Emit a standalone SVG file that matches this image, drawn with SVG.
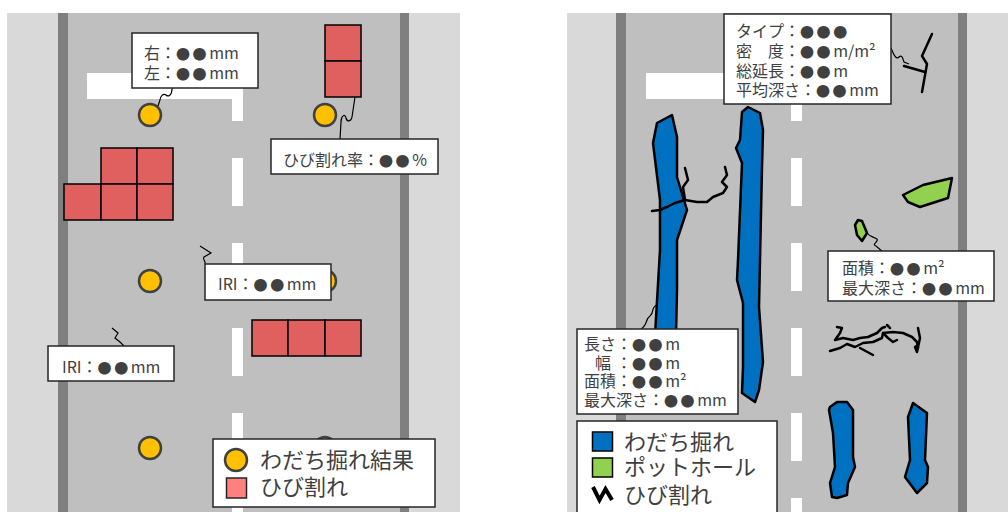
<svg xmlns="http://www.w3.org/2000/svg" width="1008" height="512" viewBox="0 0 1008 512">
<style>
.bg{fill:#d9d9d9}
.road{fill:#bfbfbf}
.edge{fill:#7f7f7f}
.mark{fill:#ffffff}
.pt{fill:#ffc000;stroke:#404040;stroke-width:2.5}
.cell{fill:#e06060;stroke:#000;stroke-width:1.5}
.rut{fill:#0070c0;stroke:#000;stroke-width:2.5;stroke-linejoin:round}
.hole{fill:#92d050;stroke:#000;stroke-width:2.5;stroke-linejoin:round}
.crack{fill:none;stroke:#000;stroke-width:2.5;stroke-linejoin:round;stroke-linecap:round}
.lead{fill:none;stroke:#000;stroke-width:1.2}
.box{fill:#fff;stroke:#262626;stroke-width:1.5}
.t{font-family:"Noto Sans CJK JP","Noto Sans",sans-serif;font-size:16px;fill:#404040}
.d{font-size:14px;letter-spacing:2.6px}
.lg{font-family:"Noto Sans CJK JP","Noto Sans",sans-serif;font-size:22px;fill:#404040}
</style>
<defs>
<path id="dash" d="M0,0h11v48h-11z"/>
</defs>

<!-- Left panel -->
<g id="left-panel">
<rect class="bg" x="7" y="13" width="453" height="499"/>
<rect class="road" x="68" y="13" width="332" height="499"/>
<rect class="edge" x="58" y="13" width="10" height="499"/>
<rect class="edge" x="400" y="13" width="9" height="499"/>
<rect class="mark" x="87" y="73" width="156" height="26"/>
<rect class="mark" x="232" y="73" width="11" height="48"/>
<use href="#dash" class="mark" x="232" y="158"/>
<use href="#dash" class="mark" x="232" y="243"/>
<use href="#dash" class="mark" x="232" y="328"/>
<use href="#dash" class="mark" x="232" y="413"/>
<use href="#dash" class="mark" x="232" y="498"/>
</g>

<!-- Right panel -->
<g id="right-panel">
<rect class="bg" x="567" y="13" width="441" height="499"/>
<rect class="road" x="626" y="13" width="332" height="499"/>
<rect class="edge" x="616" y="13" width="10" height="499"/>
<rect class="edge" x="958" y="13" width="9" height="499"/>
<rect class="mark" x="646" y="73" width="156" height="26"/>
<rect class="mark" x="791" y="73" width="11" height="48"/>
<use href="#dash" class="mark" x="791" y="158"/>
<use href="#dash" class="mark" x="791" y="243"/>
<use href="#dash" class="mark" x="791" y="328"/>
<use href="#dash" class="mark" x="791" y="413"/>
<use href="#dash" class="mark" x="791" y="498"/>
</g>

<!-- Left: rutting points -->
<g id="rut-points">
<circle class="pt" cx="150" cy="115" r="11"/>
<circle class="pt" cx="325" cy="115" r="11"/>
<circle class="pt" cx="150" cy="281" r="11"/>
<circle class="pt" cx="325" cy="281" r="11"/>
<circle class="pt" cx="150" cy="448" r="11"/>
<circle class="pt" cx="325" cy="448" r="11"/>
</g>

<!-- Left: crack cells -->
<g id="crack-cells-1">
<rect class="cell" x="101" y="148" width="36" height="36"/>
<rect class="cell" x="137" y="148" width="36" height="36"/>
<rect class="cell" x="64" y="184" width="37" height="36"/>
<rect class="cell" x="101" y="184" width="36" height="36"/>
<rect class="cell" x="137" y="184" width="36" height="36"/>
</g>
<g id="crack-cells-2">
<rect class="cell" x="325" y="25" width="36" height="36"/>
<rect class="cell" x="325" y="61" width="36" height="36"/>
</g>
<g id="crack-cells-3">
<rect class="cell" x="252" y="320" width="36" height="36"/>
<rect class="cell" x="288" y="320" width="37" height="36"/>
<rect class="cell" x="325" y="320" width="36" height="36"/>
</g>

<!-- Right: ruts -->
<g id="rut-a">
<path class="rut" d="M657,123 L672,115 L677,137 L677,177 L687,210 L677,240 L677,290 L676,335 L655,335 L660,250 L660,200 L653,143 Z"/>
</g>
<g id="rut-b">
<path class="rut" d="M742,112 L748,107 L760,113 L763,130 L762,167 L760,260 L759,307 L763,362 L759,390 L755,402 L742,393 L743,367 L743,303 L737,280 L738,260 L742,163 L736,148 L740,140 Z"/>
</g>
<g id="rut-c">
<path class="rut" d="M830,407 L837,402 L847,402 L853,410 L853,457 L855,467 L848,483 L847,495 L837,498 L832,497 L830,483 L835,467 L833,433 L829,410 Z"/>
</g>
<g id="rut-d">
<path class="rut" d="M913,403 L927,413 L925,460 L928,467 L927,483 L917,493 L905,477 L910,460 L908,417 Z"/>
</g>

<!-- Right: potholes -->
<g id="pothole-1">
<path class="hole" d="M903,195 L923,185 L952,178 L948,198 L920,207 L908,202 Z"/>
</g>
<g id="pothole-2">
<path class="hole" d="M855,225 L858,220 L862,221 L867,233 L862,241 L857,235 Z"/>
</g>

<!-- Right: cracks -->
<g id="crack-1">
<path class="crack" d="M932,34 L922,56 L927,64 L922,92"/>
<path class="crack" d="M904,66 L925,72"/>
</g>
<g id="crack-2">
<path class="crack" stroke-width="2" d="M652,211 L660,210 L667,207 L675,203 L685,200 L697,202 L707,202 L713,197 L723,193 L727,187 L722,182 L727,175 L725,167"/>
<path class="crack" stroke-width="2" d="M685,200 L683,187 L688,180 L685,168"/>
</g>
<g id="crack-3">
<path class="crack" d="M830,351 L840,348 L847,344 L855,347 L863,343 L873,342 L882,338 L883,333 L893,332 L903,333 L912,337 L917,342 L918,348"/>
<path class="crack" d="M837,327 L842,328 L840,333 L835,340 L843,338 L853,340 L860,338 L868,337 L877,333 L882,328 L885,327"/>
<path class="crack" d="M860,348 L873,355"/>
<path class="crack" d="M883,333 L888,338 L893,342 L897,340"/>
<path class="crack" d="M918,328 L920,338 L917,352 L915,347 L918,345"/>
<path class="crack" d="M890,328 L887,325"/>
</g>

<!-- Connectors -->
<g id="connectors">
<path class="lead" d="M172,88 C172,96 168,97 166,95 C163,93 160,97 160,100 L158,106"/>
<path class="lead" d="M355,97 L352,117 C351,122 347,122 346,118 C345,113 341,116 341,122 L340,139"/>
<path class="lead" d="M200,246 L211,253 L204,257 C202,259 206,261 205,264"/>
<path class="lead" d="M112,328 L118,333 L115,338 L120,342 L124,346"/>
<path class="lead" d="M891,48 C894,55 896,60 899,57 C902,54 903,59 904,62 L909,64"/>
<path class="lead" d="M867,233 C870,237 874,237 877,239 C879,242 871,244 876,246 L883,252"/>
<path class="lead" d="M657,305 C650,308 655,312 650,316 C645,319 648,325 641,329"/>
</g>

<!-- Left callouts -->
<g id="label-rut">
<rect class="box" x="132" y="33" width="126" height="55"/>
<text class="t" x="144" y="59">右：<tspan class="d">●●</tspan>mm</text>
<text class="t" x="144" y="78.5">左：<tspan class="d">●●</tspan>mm</text>
</g>
<g id="label-crack-rate">
<rect class="box" x="271" y="139" width="167" height="35"/>
<text class="t" x="283" y="166">ひび割れ率：<tspan class="d">●●</tspan>%</text>
</g>
<g id="label-iri-1">
<rect class="box" x="205" y="264" width="126" height="36"/>
<text class="t" x="218" y="290">IRI：<tspan class="d">●●</tspan>mm</text>
</g>
<g id="label-iri-2">
<rect class="box" x="48" y="346" width="126" height="35"/>
<text class="t" x="62" y="372.5">IRI：<tspan class="d">●●</tspan>mm</text>
</g>
<g id="legend-left">
<rect class="box" x="213" y="439" width="222" height="68"/>
<circle class="pt" cx="236" cy="460" r="11"/>
<rect x="226.5" y="478" width="20" height="20" fill="#ff8080" stroke="#262626" stroke-width="1.5"/>
<text class="lg" x="260" y="468">わだち掘れ結果</text>
<text class="lg" x="260" y="495">ひび割れ</text>
</g>

<!-- Right callouts -->
<g id="label-crack">
<rect class="box" x="724" y="14" width="167" height="90"/>
<text class="t" x="736" y="37">タイプ：<tspan class="d">●●●</tspan></text>
<text class="t" x="736" y="57">密　度：<tspan class="d">●●</tspan>m/m²</text>
<text class="t" x="736" y="76.5">総延長：<tspan class="d">●●</tspan>m</text>
<text class="t" x="736" y="96">平均深さ：<tspan class="d">●●</tspan>mm</text>
</g>
<g id="label-pothole">
<rect class="box" x="828" y="251" width="166" height="50"/>
<text class="t" x="842" y="273.5">面積：<tspan class="d">●●</tspan>m²</text>
<text class="t" x="842" y="293.5">最大深さ：<tspan class="d">●●</tspan>mm</text>
</g>
<g id="label-rut-area">
<rect class="box" x="577" y="329" width="161" height="85"/>
<text class="t" x="584" y="350">長さ：<tspan class="d">●●</tspan>m</text>
<text class="t" y="368.5"><tspan x="595">幅</tspan><tspan x="616">：</tspan><tspan class="d">●●</tspan>m</text>
<text class="t" x="584" y="387">面積：<tspan class="d">●●</tspan>m²</text>
<text class="t" x="584" y="406">最大深さ：<tspan class="d">●●</tspan>mm</text>
</g>
<g id="legend-right">
<rect class="box" x="577" y="421" width="200" height="96"/>
<rect x="592.5" y="432" width="20" height="19" fill="#0070c0" stroke="#000" stroke-width="1.5"/>
<rect x="592.5" y="458" width="20" height="19" fill="#92d050" stroke="#000" stroke-width="1.5"/>
<path d="M593,487 L599.5,500 L605.5,489 L612,500" fill="none" stroke="#000" stroke-width="4" stroke-linejoin="miter"/>
<text class="lg" x="624" y="449.5">わだち掘れ</text>
<text class="lg" x="624" y="475">ポットホール</text>
<text class="lg" x="624" y="503">ひび割れ</text>
</g>
</svg>
